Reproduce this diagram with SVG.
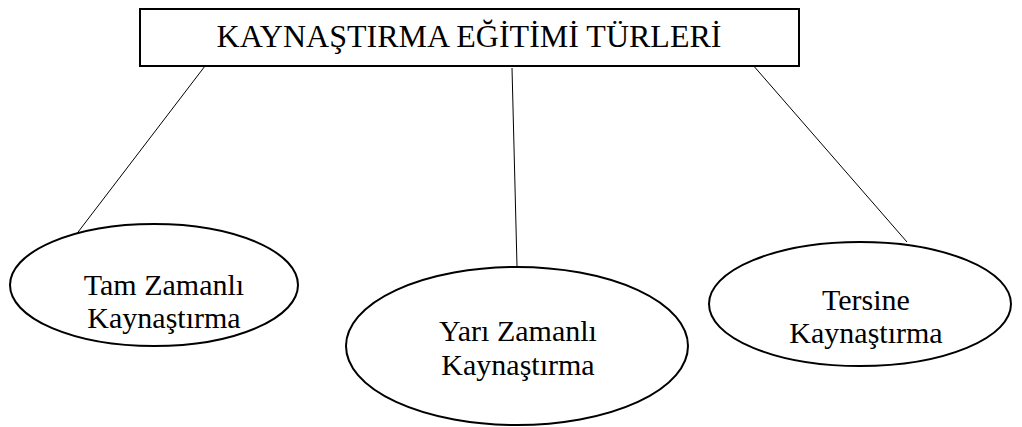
<svg xmlns="http://www.w3.org/2000/svg" width="1022" height="427" viewBox="0 0 1022 427">
<style>
.t{font-family:"Liberation Serif","Times New Roman",serif;fill:#000;text-anchor:middle}
.s{fill:#fff;stroke:#000;stroke-width:2}
.c{stroke:#000;stroke-width:1;fill:none}
</style>
<rect width="1022" height="427" fill="#fff"/>
<g id="connectors">
<line class="c" x1="205" y1="66" x2="72" y2="240"/>
<line class="c" x1="512" y1="68" x2="517" y2="266"/>
<line class="c" x1="752" y1="64" x2="907" y2="242"/>
</g>
<g id="root">
<rect class="s" x="140" y="9" width="659" height="57"/>
<text class="t" x="469" y="47" font-size="32">KAYNAŞTIRMA EĞİTİMİ TÜRLERİ</text>
</g>
<g id="tam">
<ellipse class="s" cx="154" cy="285" rx="144" ry="61"/>
<text class="t" x="164" y="295" font-size="30">Tam Zamanlı</text>
<text class="t" x="164" y="328" font-size="30">Kaynaştırma</text>
</g>
<g id="yari">
<ellipse class="s" cx="517" cy="346" rx="171" ry="79"/>
<text class="t" x="518" y="341" font-size="30">Yarı Zamanlı</text>
<text class="t" x="518" y="375" font-size="30">Kaynaştırma</text>
</g>
<g id="tersine">
<ellipse class="s" cx="860" cy="304" rx="151" ry="62"/>
<text class="t" x="866" y="310" font-size="30">Tersine</text>
<text class="t" x="866" y="343" font-size="30">Kaynaştırma</text>
</g>
</svg>
